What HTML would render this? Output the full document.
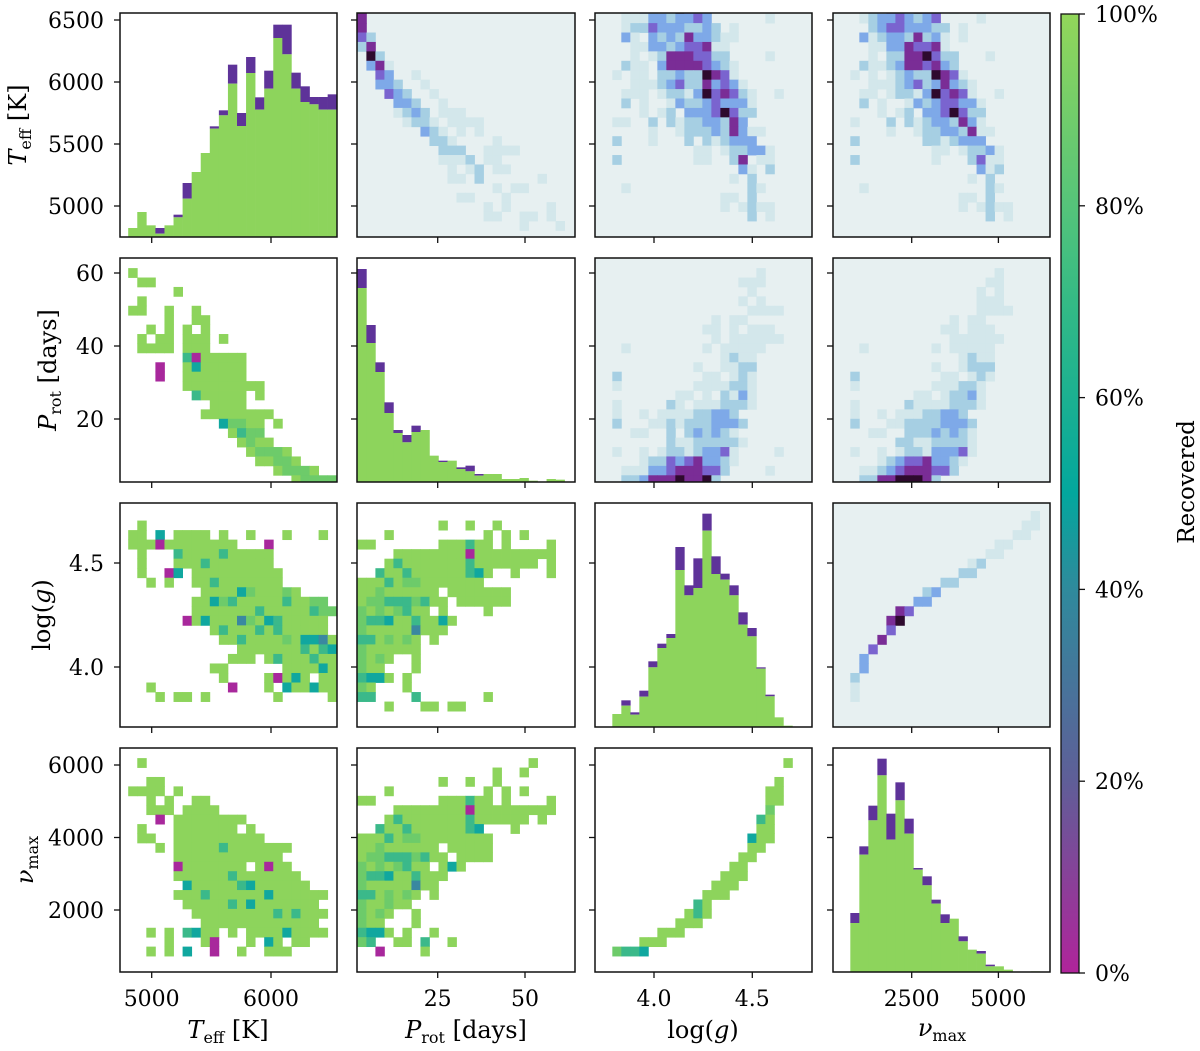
<!DOCTYPE html>
<html><head><meta charset="utf-8">
<style>
html,body{margin:0;padding:0;background:#fff;}
svg{display:block;}
text{font-family:"DejaVu Serif","Liberation Serif",serif;fill:#000;}
</style></head>
<body>
<svg id="chart" xmlns="http://www.w3.org/2000/svg" width="1200" height="1051" viewBox="0 0 1200 1051">
<defs>
<linearGradient id="cbgrad" x1="0" y1="1" x2="0" y2="0">
<stop offset="0" stop-color="#b0249a"/>
<stop offset="0.2" stop-color="#5f5e98"/>
<stop offset="0.4" stop-color="#2f8a9c"/>
<stop offset="0.5" stop-color="#03a79d"/>
<stop offset="0.7" stop-color="#34ba85"/>
<stop offset="0.8" stop-color="#55c47a"/>
<stop offset="1" stop-color="#92d65a"/>
</linearGradient>
</defs>
<g id="panels"></g>
<g id="labels"></g>
</svg>
<script>
// ---------- data ----------
const varNames = ["teff","prot","logg","numax"];
const binStart = [4803, 2.0, 3.788, 730];
const binWidth = [76, 2.58, 0.0458, 260];
const xTickVals = [[5000,6000],[25,50],[4.0,4.5],[2500,5000]];
const xTickLabels = [["5000","6000"],["25","50"],["4.0","4.5"],["2500","5000"]];
const yTickVals = [[5000,5500,6000,6500],[20,40,60],[4.0,4.5],[2000,4000,6000]];
const yTickLabels = [["5000","5500","6000","6500"],["20","40","60"],["4.0","4.5"],["2000","4000","6000"]];
const cbTickVals = [0,20,40,60,80,100];
const cbTickLabels = ["0%","20%","40%","60%","80%","100%"];

// histogram counts (total, recovered)
const histTeffTotal = [27,75,35,27,35,67,162,195,252,332,380,517,372,540,419,499,637,637,493,452,420,420,428];
const histTeffRec   = [27,75,35,10,35,59,115,195,252,325,365,460,333,492,382,445,597,548,445,405,398,382,382];
const histProtTotal = [639,471,359,239,156,141,169,156,79,64,64,44,49,24,24,24,9,9,12,4,0,9,7];
const histProtRec   = [582,417,330,207,147,119,150,156,79,60,64,39,32,19,24,24,9,9,12,4,0,9,7];
const histLoggTotal = [39,80,44,109,197,250,279,540,425,506,640,512,460,425,344,297,179,97,29,4];
const histLoggRec   = [39,64,37,91,179,237,267,471,395,417,589,459,442,395,307,272,175,92,29,4];
const histNumaxTotal = [177,377,499,640,475,569,460,312,287,217,173,160,107,67,63,22,17,7,0,0,2];
const histNumaxRec   = [147,352,455,590,397,515,415,307,260,205,147,160,92,67,55,17,17,7,0,0,2];

// 2D grids, rows listed top (highest bin) to bottom
const gridTP = ["e","e","e","db","be",".fb",".cea","..dc..a","..ccb..a","...dcb..a","....ccb..a","....abcb.aaa",".....abba.aaaa",".......cba.a.a","........bba....a",".........bbb..aaaa",".........aaab.aa","..........a.ab.aa","..........aa.b......a","...............a.aa","...........aa...a","..............a.a....a","..............aa..aa.a","..................a...a"];
const gridTL = [".a.cbabfdcc",".aaaccbccdc......a",".abbdcccbbcb.a",".ca.cbcbeccbaa","..aaccbcddeaa","..a.abeeeddbb....a",".baa.ceeeedcba","a.aa.bbcbbfeda","..aaabcdbbecdca",".aaa.abbacfdedba..a",".b.a..acbbcdccca","...a.ab.cccdfdbb","aa..b.babbccbec","....a..abbbcbecaa","b...a...b.babccc",".........aa.abbcca","b........aa..be.aa","..............ca.b",".............a.b",".a.............ba","............aa.b","............a.abaa","...............b.a",""];
const gridTN = [".ab.dcbfdc.a",".abccdcbcd....a","..bcddcccbb.a",".cabccbebca.a","..aacceddea","..a.bbeefdbb...a",".baabceedecb","a.a.abcbbfeda","..aaabcdbcecba",".aa.abbacfdeda..a",".b.a..acbcddcca","...a.ab.ccdfdbb","a...b.babccbeca","....a..abbccbeaa","b.......bbabccc",".........aa.abbca","b........a...bdaa","..............cab",".............a.b",".a.............ba","............aa.b","............a.abaa","...............b.a",""];
const gridPL = ["","................a","..............aaa","...............a","..............a.a","...............aaaa","...........a.aa","..........aa.a.aaa","...........a.aaaaaa",".a........a.aaaaa","............abaa",".........a..aabb","b.........aa.aba","a........aaaabba",".......aa.a.baca","a.....ba.aaabbba","a..a.aaaabbccb","b...aababbbcccb","..aa..b.bcbcba","......baabbbbba","a..a.abbabccda....a","...abbdcdeccba",".aaaccdeeeddb....a",".bbceeefeefb"];
const gridPN = ["","................a","...............aa","..............a.a","..............aaa","..............aaaa","...........a.aa","..........aa.aaa","...........aaaaaa",".a.......a.aaaaa","............abaa",".........a..abbb","b.........aa.aba","a........aaabba",".......aa.abbca","a.....baaaabbba","a..a.aaabbccb","b...aabbbbcccb","..aa..bbbcbcba",".....bbaabbbba","a..a.abbacccda","...abcddeccba",".aabcdeeeddb",".bbeefffeb"];
const gridLN = ["","....................a","...................aa","..................aa","................aa","...............aa",".............ab","............bb","..........bb","........bc",".......cc",".....ed","....ef","....d","...e","..d",".c",".c","b","a","a",""];
const gridPT = ["","g",".gg",".....g",".g","gg..g..g","....g..gg","..g.g.g.g",".g.gg.ggg.g",".gggg.ggg","......kmggggg","...m..gtggggg","...m..ggggggg","......ggggggggg",".......kggggg.g",".........gggg","........gggggggg","..........thhgg.g","...........gkhh","............ghgg",".............ghhhg","..............gghhg","................ghhhg","..................ghhhh"];
const gridLT = ["","",".g","gg.t.gggg.g..g...g...g.","gggmgggggggg...m",".g...kggggkggggg",".g...gggkggggggg",".g..mt.gggggggggg","..g.g..ggkggggggg","........ggggthggghg",".......ggthkgggggkgghh",".......gggggggkgggggkhh","......mgtggguhgtkggggg",".........gkgggkgkggggg","..........ggkgggghgttug","............gggggggkgkt","...........ggg.gkgggkgg",".........gg......ggggtgk","..........g....gmgtg.gg","..g........m...g.tggtgg","...g.gg.g.......g.....g",""];
const gridNT = ["","",".g","","..gg","gggg.g","..g.g..gg","..ggg.gggg","...m.gggggggg",".g...ggggggg.g",".gg..gggggggggg","...g.gggggkggggggg",".....gggggggggggg",".....mggggggg.gmgg",".....ggggggkggggggg","......tgggggktgggggg",".....gggkggggggtgggggg","......gggggkgtggggggg",".......gggggggggkgkggg","........ggggggggggggg","..g.g.ktgg.g.ggggtgggg","....g...gm...g.tg.gg","..g.g.t..m..g..ggg"];
const gridLP = ["","",".........g..g..g","...g..........g.g.g","gg.......gggkgg.g....g","....ggggggggmggggggggg.","...gkgggggggkggggggg.g","..kggkggggggktg..g...g","gggkghhggggggg","gghgggggg.ggggggg","ghhkkkhkgg.gggggg","hghghkgg.g....g","hkktggkggtg","hggggguggg","kkghghg.g","hgggggg","hghg..g","hgg...g","kttg.g","hg...g","kk....k.......g","...g...gg.gg"];
const gridNP = ["","","...................g","...............g..g",".........g..g..g","...g..........g.g.g","gg.......gggkgg.g....g","....ggggggggmggggggggg","...gkgggggggkgggggg.g","..kggkggggggkt...g","gggkghhgggggggg","gghgggggg.ggggg","ghhkkkhkgg.gggg","hghghkgg.gtg","hkktggkggg","hgggggugg","kkghghg.g","hgghgg","hghg..g","hgg...g","kttg.g..g","hk..gg.k..g","..m....g"];
const gridNL = ["","","...................g","","..................g",".................gg",".................gg",".................h","................kg","................gg","...............tgg","...............gg","..............gg",".............gg","............ggg","...........ggg","..........ggg",".........kg","........gkg",".......ggg",".....ggg","...ggg","hkkt"];

// ---------- layout / scales ----------
const colX = [[120,337],[357,575],[595,812],[833,1050]];
const rowY = [[13,237],[258,482],[503,727],[748,972]];
function xScale(v, i){
  if(i===0) return 151.7 + (v-5000)*0.1193;
  if(i===1) return 437.7 + (v-25)*3.492;
  if(i===2) return 654 + (v-4.0)*196.6;
  return 911.7 + (v-2500)*0.03468;
}
function yScale(v, i){
  if(i===0) return 206 - (v-5000)*0.124;
  if(i===1) return 419 - (v-20)*3.65;
  if(i===2) return 667 - (v-4.0)*208;
  return 910 - (v-2000)*0.03625;
}
function histY(count, row){ return rowY[row][1] - count/3; }

const upperColors = {a:"#d3e7eb",b:"#a6cfe3",c:"#7ea9e8",d:"#7a64cf",e:"#7a2d96",f:"#2e0a2e"};
const lowerColors = {g:"#8dd45c",h:"#6dcb6a",k:"#3bb98a",t:"#10a79f",u:"#3a88a0",m:"#a8289c"};

const NS = "http://www.w3.org/2000/svg";
const panelsG = document.getElementById('panels');
const labelsG = document.getElementById('labels');
function mk(tag, attrs, parent){
  const e = document.createElementNS(NS, tag);
  for(const k in attrs) e.setAttribute(k, attrs[k]);
  parent.appendChild(e); return e;
}

const grids = {"0-1":gridTP,"0-2":gridTL,"0-3":gridTN,"1-2":gridPL,"1-3":gridPN,"2-3":gridLN,
  "1-0":gridPT,"2-0":gridLT,"3-0":gridNT,"2-1":gridLP,"3-1":gridNP,"3-2":gridNL};
const hists = [[histTeffTotal,histTeffRec],[histProtTotal,histProtRec],[histLoggTotal,histLoggRec],[histNumaxTotal,histNumaxRec]];

for(let r=0;r<4;r++){
  for(let c=0;c<4;c++){
    const [x0,x1] = colX[c], [y0,y1] = rowY[r];
    const g = mk('g',{},panelsG);
    
    
    const cp = mk('clipPath',{id:'cp'+r+c},g);
    mk('rect',{x:x0,y:y0,width:x1-x0,height:y1-y0},cp);
    const inner = mk('g',{'clip-path':'url(#cp'+r+c+')'},g);
    const upper = c>r;
    const bg = mk('rect',{x:x0,y:y0,width:x1-x0,height:y1-y0,fill: upper?'#e7f0f1':'#ffffff'},inner);
    
    
    if(r===c){
      const [tot,rec] = hists[r];
      for(let i=0;i<tot.length;i++){
        const xa = xScale(binStart[c]+i*binWidth[c], c), xb = xScale(binStart[c]+(i+1)*binWidth[c], c);
        const yt = histY(tot[i], r), yr = histY(rec[i], r);
        if(tot[i]>rec[i]){
          const p = mk('rect',{x:xa,y:yt,width:xb-xa+0.3,height:yr-yt,fill:'#5e3399'},inner);
          
          
        }
        if(rec[i]>0){
          const b = mk('rect',{x:xa,y:yr,width:xb-xa+0.3,height:y1-yr,fill:'#8dd45c'},inner);
          
          
        }
      }
    } else {
      const grid = grids[r+'-'+c];
      const cols = upper?upperColors:lowerColors;
      const nR = grid.length;
      for(let ri=0;ri<nR;ri++){
        const bin = nR-1-ri;
        const s = grid[ri];
        for(let ci=0;ci<s.length;ci++){
          const ch = s[ci];
          if(!cols[ch]) continue;
          const xa = xScale(binStart[c]+ci*binWidth[c], c), xb = xScale(binStart[c]+(ci+1)*binWidth[c], c);
          const ya = yScale(binStart[r]+(bin+1)*binWidth[r], r), yb = yScale(binStart[r]+bin*binWidth[r], r);
          const cell = mk('rect',{x:xa,y:ya,width:xb-xa+0.4,height:yb-ya+0.4,fill:cols[ch]},inner);
          
          
        }
      }
    }
    const fr = mk('rect',{x:x0,y:y0,width:x1-x0,height:y1-y0,fill:'none',stroke:'#111',"stroke-width":1.5},g);
    
    
    // x ticks
    xTickVals[c].forEach((v,k)=>{
      const x = xScale(v,c);
      const t = mk('line',{x1:x,x2:x,y1:y1,y2:y1+6,stroke:'#111',"stroke-width":1.3},g);
      
      
      if(r===3){
        const tl = mk('text',{x:x,y:y1+34,"font-size":22,"text-anchor":"middle"},labelsG);
        tl.textContent = xTickLabels[c][k];
        
        
      }
    });
    yTickVals[r].forEach((v,k)=>{
      const y = yScale(v,r);
      const t = mk('line',{x1:x0-6,x2:x0,y1:y,y2:y,stroke:'#111',"stroke-width":1.3},g);
      
      
      if(c===0){
        const tl = mk('text',{x:x0-16,y:y+8,"font-size":22,"text-anchor":"end"},labelsG);
        tl.textContent = yTickLabels[r][k];
        
        
      }
    });
  }
}

// colorbar
const cbG = mk('g',{},panelsG);


const cbTop=14, cbBot=973, cbX0=1061, cbX1=1079;
mk('rect',{x:cbX0,y:cbTop,width:cbX1-cbX0,height:cbBot-cbTop,fill:'url(#cbgrad)',stroke:'#111',"stroke-width":1.3},cbG);
cbTickVals.forEach((v,k)=>{
  const y = cbBot - (v/100)*(cbBot-cbTop);
  const t = mk('line',{x1:cbX1,x2:cbX1+6,y1:y,y2:y,stroke:'#111',"stroke-width":1.3},cbG);
  
  
  const tl = mk('text',{x:cbX1+16,y:y+8,"font-size":22},labelsG);
  tl.textContent = cbTickLabels[k];
  
  
});
</script>
<svg width="0" height="0"></svg>
<div style="position:absolute;left:0;top:0;width:1200px;height:1051px;pointer-events:none;">
<svg width="1200" height="1051" xmlns="http://www.w3.org/2000/svg" style="position:absolute;left:0;top:0;">
<g font-family="DejaVu Serif, Liberation Serif, serif" font-size="24" fill="#000">
<text transform="translate(1194,482) rotate(-90)" text-anchor="middle" font-size="23">Recovered</text>
<text transform="translate(26,125) rotate(-90)" text-anchor="middle"><tspan font-style="italic">T</tspan><tspan font-size="16" dy="5">eff</tspan><tspan dy="-5"> [K]</tspan></text>
<text transform="translate(56,370) rotate(-90)" text-anchor="middle"><tspan font-style="italic">P</tspan><tspan font-size="16" dy="5">rot</tspan><tspan dy="-5"> [days]</tspan></text>
<text transform="translate(50,615) rotate(-90)" text-anchor="middle">log(<tspan font-style="italic">g</tspan>)</text>
<text transform="translate(33,860) rotate(-90)" text-anchor="middle"><tspan font-style="italic">ν</tspan><tspan font-size="16" dy="5">max</tspan></text>
<text x="228" y="1038" text-anchor="middle"><tspan font-style="italic">T</tspan><tspan font-size="16" dy="5">eff</tspan><tspan dy="-5"> [K]</tspan></text>
<text x="466" y="1038" text-anchor="middle"><tspan font-style="italic">P</tspan><tspan font-size="16" dy="5">rot</tspan><tspan dy="-5"> [days]</tspan></text>
<text x="703" y="1038" text-anchor="middle">log(<tspan font-style="italic">g</tspan>)</text>
<text x="942" y="1036" text-anchor="middle"><tspan font-style="italic">ν</tspan><tspan font-size="16" dy="5">max</tspan></text>
</g>
</svg>
</div>
</body></html>
